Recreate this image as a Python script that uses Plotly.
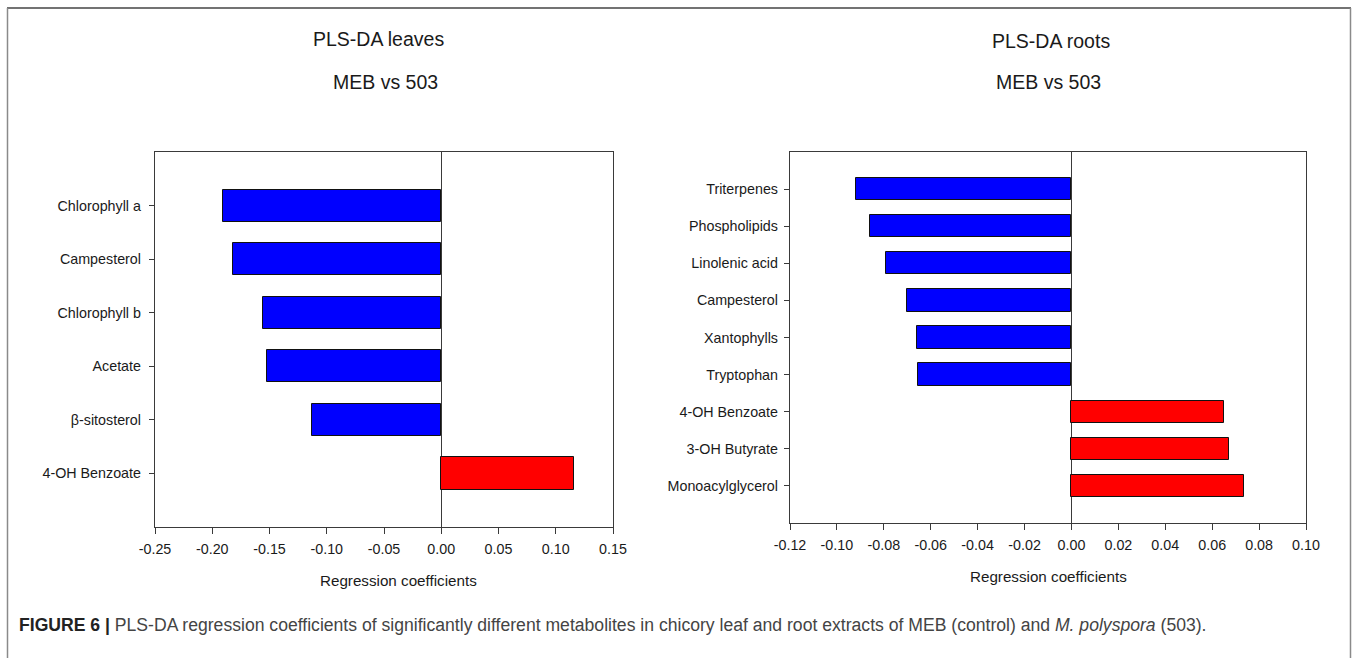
import plotly.graph_objects as go

# Leaves: PLS-DA regression coefficients (MEB vs 503)
leaf_metabolites = ["Chlorophyll a", "Campesterol", "Chlorophyll b", "Acetate",
                    "β-sitosterol", "4-OH Benzoate"]
leaf_coefs = [-0.191, -0.182, -0.156, -0.152, -0.113, 0.116]

# Roots: PLS-DA regression coefficients (MEB vs 503)
root_metabolites = ["Triterpenes", "Phospholipids", "Linolenic acid", "Campesterol",
                    "Xantophylls", "Tryptophan", "4-OH Benzoate", "3-OH Butyrate",
                    "Monoacylglycerol"]
root_coefs = [-0.092, -0.086, -0.079, -0.070, -0.066, -0.0656, 0.065, 0.067, 0.0735]

leaf_xticks = [-0.25, -0.20, -0.15, -0.10, -0.05, 0.00, 0.05, 0.10, 0.15]
leaf_xticklabels = ["-0.25", "-0.20", "-0.15", "-0.10", "-0.05", "0.00", "0.05", "0.10", "0.15"]
root_xticks = [-0.12, -0.10, -0.08, -0.06, -0.04, -0.02, 0.00, 0.02, 0.04, 0.06, 0.08, 0.10]
root_xticklabels = ["-0.12", "-0.10", "-0.08", "-0.06", "-0.04", "-0.02",
                    "0.00", "0.02", "0.04", "0.06", "0.08", "0.10"]

W, H = 1358, 658
FONT = "Liberation Sans, Arial, sans-serif"
TXT = "#1a1a1a"


def colours(vals):
    return ["#0000FF" if v < 0 else "#FF0000" for v in vals]


fig = go.Figure()

leaf_pos = list(range(1, len(leaf_metabolites) + 1))
root_pos = list(range(1, len(root_metabolites) + 1))

fig.add_trace(go.Bar(
    x=leaf_coefs, y=leaf_pos, orientation="h", width=0.6,
    marker=dict(color=colours(leaf_coefs), line=dict(color="#111111", width=1)),
    xaxis="x", yaxis="y", showlegend=False,
))
fig.add_trace(go.Bar(
    x=root_coefs, y=root_pos, orientation="h", width=0.6,
    marker=dict(color=colours(root_coefs), line=dict(color="#111111", width=1)),
    xaxis="x2", yaxis="y2", showlegend=False,
))


def px_x(p):
    return p / W


def px_y(p):
    return 1 - p / H


axis_common = dict(
    showline=True, mirror=True, linecolor="#3a3a3a", linewidth=1.3,
    showgrid=False, ticks="outside", tickcolor="#3a3a3a", tickwidth=1,
    automargin=False,
    tickfont=dict(family=FONT, size=14.3, color=TXT),
)

fig.update_layout(
    width=W, height=H,
    margin=dict(l=0, r=0, t=0, b=0, autoexpand=False),
    paper_bgcolor="white", plot_bgcolor="white",
    bargap=0,
    xaxis=dict(axis_common, domain=[px_x(155), px_x(613)], range=[-0.25, 0.15],
               tickvals=leaf_xticks, ticktext=leaf_xticklabels, ticklen=6,
               ticklabelstandoff=3,
               zeroline=True, zerolinecolor="#3a3a3a", zerolinewidth=1,
               anchor="y"),
    yaxis=dict(axis_common, domain=[px_y(527), px_y(152)],
               range=[len(leaf_metabolites) + 1, 0],
               tickvals=leaf_pos, ticktext=leaf_metabolites, ticklen=5,
               ticklabelstandoff=5,
               zeroline=False, anchor="x"),
    xaxis2=dict(axis_common, domain=[px_x(790), px_x(1306)], range=[-0.12, 0.10],
                tickvals=root_xticks, ticktext=root_xticklabels, ticklen=6,
                ticklabelstandoff=3,
                zeroline=True, zerolinecolor="#3a3a3a", zerolinewidth=1,
                anchor="y2"),
    yaxis2=dict(axis_common, domain=[px_y(523), px_y(152)],
                range=[len(root_metabolites) + 1, 0],
                tickvals=root_pos, ticktext=root_metabolites, ticklen=5,
                ticklabelstandoff=3,
                zeroline=False, anchor="x2"),
)


def label(text, x, y, size, color=TXT, xanchor="center"):
    fig.add_annotation(text=text, x=px_x(x), y=px_y(y), xref="paper", yref="paper",
                       showarrow=False, xanchor=xanchor, yanchor="middle",
                       font=dict(family=FONT, size=size, color=color))


# Panel titles
label("PLS-DA leaves", 378, 39, 19.5)
label("MEB vs 503", 385, 82, 19.5)
label("PLS-DA roots", 1051, 41, 19.5)
label("MEB vs 503", 1048, 82, 19.5)

# Axis titles
label("Regression coefficients", 398, 580, 15.2)
label("Regression coefficients", 1048, 576, 15.2)

# Caption
label("<b>FIGURE 6 |</b> <span style='color:#444444'>PLS-DA regression coefficients of "
      "significantly different metabolites in chicory leaf and root extracts of MEB "
      "(control) and <i>M. polyspora</i> (503).</span>",
      17, 625, 17.6, color="#222222", xanchor="left")

# Frame around the figure panel
fig.add_shape(type="line", xref="paper", yref="paper",
              x0=px_x(7), x1=px_x(1351), y0=px_y(8), y1=px_y(8),
              line=dict(color="#444444", width=1.5))
fig.add_shape(type="line", xref="paper", yref="paper",
              x0=px_x(7.5), x1=px_x(7.5), y0=px_y(8), y1=0,
              line=dict(color="#8a8a8a", width=1.5))
fig.add_shape(type="line", xref="paper", yref="paper",
              x0=px_x(1350.5), x1=px_x(1350.5), y0=px_y(8), y1=0,
              line=dict(color="#8a8a8a", width=1.5))

fig.write_html("out.html")
